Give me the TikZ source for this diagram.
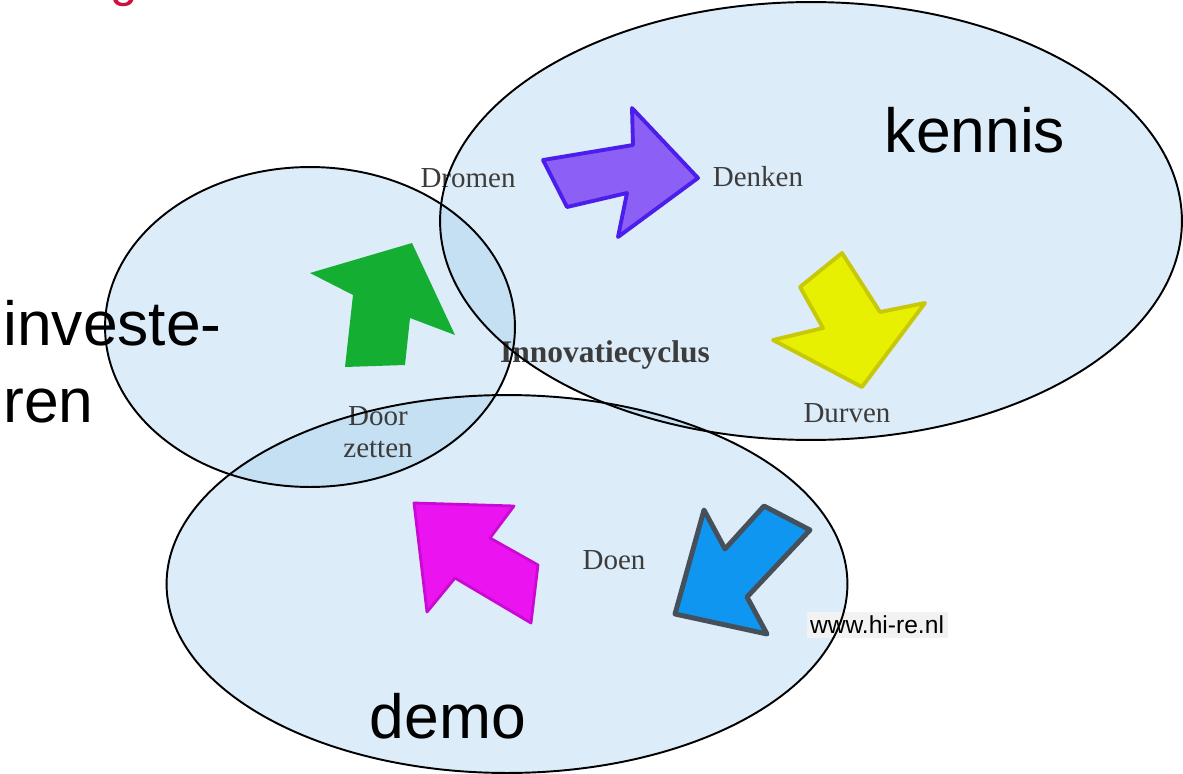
\documentclass[tikz,border=0pt]{standalone}
\usepackage{fontspec}
\setmainfont{Liberation Serif}
\setsansfont{Liberation Sans}
\usepackage{xcolor}
\usepackage{tikz}
\usetikzlibrary{positioning}

\definecolor{bubble}{RGB}{155,200,235}
\definecolor{cyctext}{RGB}{60,60,60}
\definecolor{titlered}{RGB}{210,15,60}
\definecolor{wwwbox}{RGB}{242,242,242}
\definecolor{purplefill}{RGB}{140,95,245}
\definecolor{purpleline}{RGB}{75,30,235}
\definecolor{greenfill}{RGB}{20,175,50}
\definecolor{yellowfill}{RGB}{230,240,0}
\definecolor{yellowline}{RGB}{200,200,10}
\definecolor{magentafill}{RGB}{235,20,240}
\definecolor{magentaline}{RGB}{200,10,210}
\definecolor{bluefill}{RGB}{15,150,240}
\definecolor{blueline}{RGB}{70,80,90}

\begin{document}
\begin{tikzpicture}[x=0.02cm,y=-0.02cm,
  big/.style={font=\sffamily\fontsize{35.5}{40}\selectfont,inner sep=0pt,anchor=base},
  cyc/.style={font=\fontsize{16.5}{17.6}\selectfont,text=cyctext,inner sep=0pt,anchor=base},
  arrowshape/.style={line width=2.2pt,line join=round}]
\useasboundingbox (0,0) rectangle (1183,774);

\foreach \cx/\cy/\rx/\ry in {811/221/7.42/4.38, 310/327/4.1/3.2, 507/584/6.81/3.78}
\fill[bubble,opacity=0.35] (\cx,\cy) ellipse [x radius=\rx cm,y radius=\ry cm];

\filldraw[arrowshape,fill=purplefill,draw=purpleline] (543,160) -- (633,145) -- (632,108) -- (698,178) -- (618,237) -- (627,193) -- (567,207) -- cycle;
\fill[greenfill] (310,273) -- (412,243) -- (455,335) -- (410,318) -- (405,365) -- (345,367) -- (353,295) -- cycle;
\filldraw[arrowshape,fill=yellowfill,draw=yellowline] (800,287) -- (842,253) -- (880,312) -- (925,303) -- (862,387) -- (773,340) -- (823,328) -- cycle;
\filldraw[arrowshape,line width=1.6pt,fill=magentafill,draw=magentaline] (414,503) -- (514,506) -- (490,538) -- (538,565) -- (531,623) -- (455,578) -- (427,612) -- cycle;
\filldraw[arrowshape,line width=2.8pt,fill=bluefill,draw=blueline] (704,510) -- (725,549) -- (764,506) -- (810,530) -- (747,597) -- (767,634) -- (675,614) -- cycle;

\node[cyc] (dromen) at (468,187) {Dromen};
\node[cyc] (denken) at (758,186) {Denken};
\node[cyc,font=\bfseries\fontsize{17.9}{20}\selectfont] (innovatie) at (605,362) {Innovatiecyclus};
\node[cyc] (durven) at (847,422) {Durven};
\node[cyc] (door) at (378,425) {Door};
\node[cyc] (zetten) at (378,457) {zetten};
\node[cyc] (doen) at (614,569) {Doen};
\node[font=\sffamily\fontsize{14}{16}\selectfont,fill=wwwbox,inner sep=2pt] (www) at (877,625) {www.hi-re.nl};

\foreach \cx/\cy/\rx/\ry in {811/221/7.42/4.38, 310/327/4.1/3.2, 507/584/6.81/3.78}
\draw[line width=1.1pt] (\cx,\cy) ellipse [x radius=\rx cm,y radius=\ry cm];

\node[big] (kennis) at (975,152) {kennis};
\node[big,anchor=base west] (investe) at (3,345) {investe-};
\node[big,anchor=base west] (ren) at (3,422) {ren};
\node[big] (demo) at (448,738) {demo};
\node[font=\sffamily\fontsize{28}{30}\selectfont,text=titlered,anchor=base west,inner sep=0pt] (title) at (110,-4) {g};
\end{tikzpicture}
\end{document}
